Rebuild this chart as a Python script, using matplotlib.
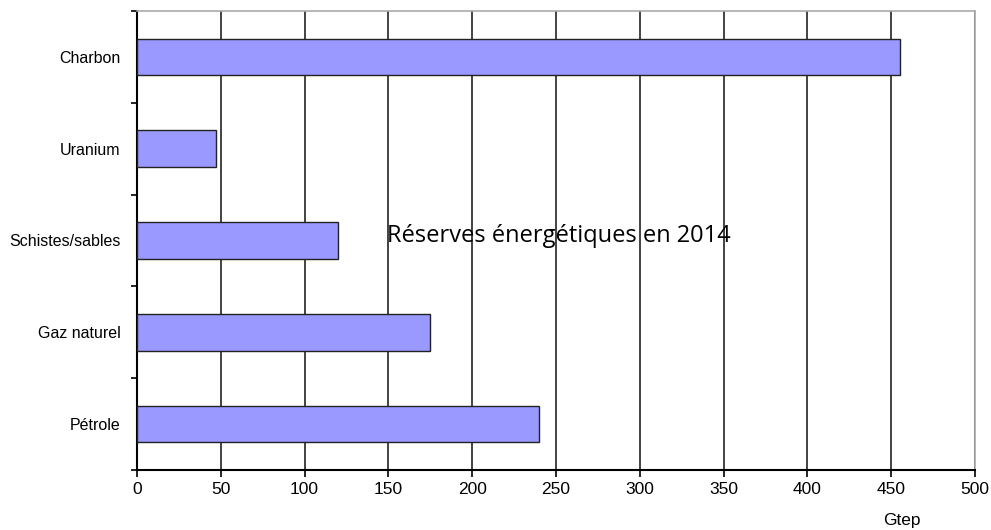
import matplotlib.pyplot as plt

categories = ['Pétrole', 'Gaz naturel', 'Schistes/sables', 'Uranium', 'Charbon']
reserves = [240, 175, 120, 47, 455]
x_ticks = [0, 50, 100, 150, 200, 250, 300, 350, 400, 450, 500]

plt.rcParams['font.family'] = ['Liberation Sans', 'DejaVu Sans']

fig = plt.figure(figsize=(9.91, 5.30), dpi=100)
ax = fig.add_axes([137 / 991, 60 / 530, 838 / 991, 459 / 530])

ax.barh(range(len(categories)), reserves, height=0.4, color='#9999ff',
        edgecolor='#222222', linewidth=1, zorder=3)

ax.set_xlim(0, 500)
ax.set_ylim(-0.5, len(categories) - 0.5)
ax.set_xticks(x_ticks)
ax.set_xticklabels([str(v) for v in x_ticks], fontsize=12.5)
ax.set_yticks(range(len(categories)))
ax.set_yticklabels(categories, fontsize=11.5)
ax.tick_params(axis='y', length=0, pad=12)
ax.set_yticks([i - 0.5 for i in range(len(categories) + 1)], minor=True)
ax.tick_params(axis='y', which='minor', length=4, width=1.2, color='black', direction='out')
ax.tick_params(axis='x', length=5, width=1.2, direction='out', pad=4)

ax.grid(axis='x', color='#222222', linewidth=1.2, zorder=0)
ax.set_axisbelow(True)
ax.spines['left'].set_linewidth(1.5)
ax.spines['bottom'].set_linewidth(1.5)
ax.spines['top'].set_color('#aaaaaa')
ax.spines['right'].set_color('#aaaaaa')
ax.spines['top'].set_linewidth(1.2)
ax.spines['right'].set_linewidth(1.2)

fig.text(387 / 991, (530 - 236) / 530, 'Réserves énergétiques en 2014',
         fontsize=17, family=['Open Sans', 'DejaVu Sans'], ha='left', va='center')
fig.text(902 / 991, (530 - 520) / 530, 'Gtep', fontsize=12.5, ha='center', va='center')

fig.savefig('out.png', dpi=100)
